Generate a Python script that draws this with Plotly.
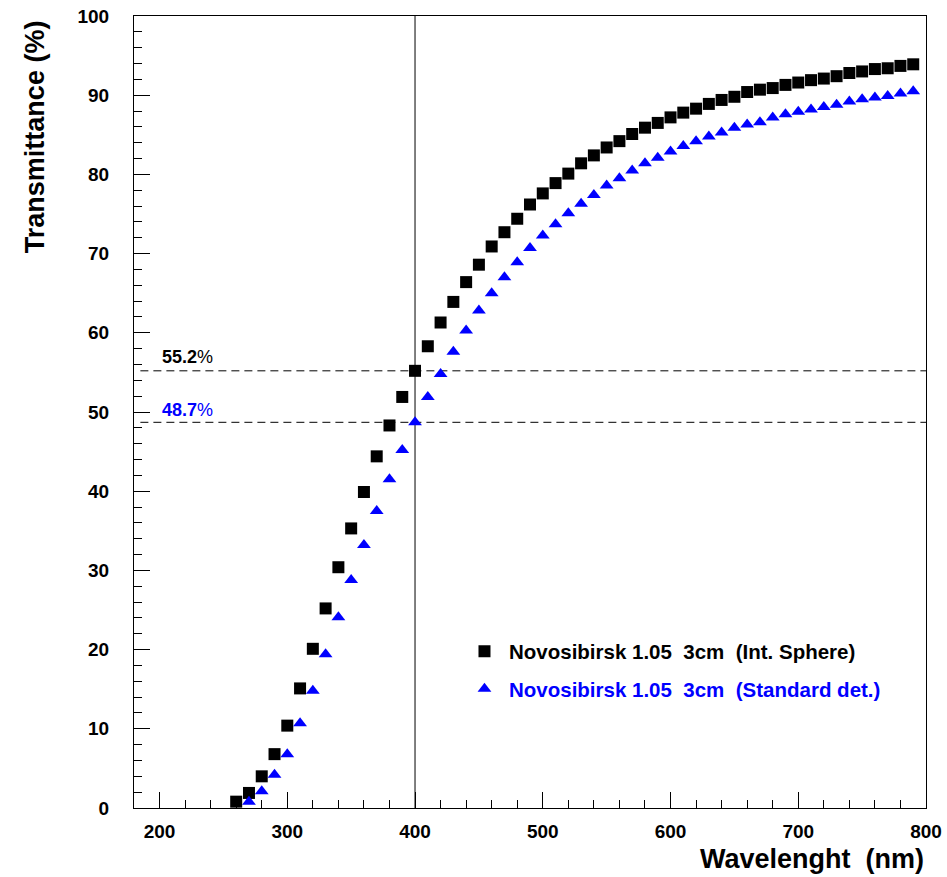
import plotly.graph_objects as go

wl_sphere = [260, 270, 280, 290, 300, 310, 320, 330, 340, 350, 360, 370, 380, 390, 400,
             410, 420, 430, 440, 450, 460, 470, 480, 490, 500, 510, 520, 530, 540, 550,
             560, 570, 580, 590, 600, 610, 620, 630, 640, 650, 660, 670, 680, 690, 700,
             710, 720, 730, 740, 750, 760, 770, 780, 790]
t_sphere = [0.8, 1.9, 4.0, 6.8, 10.4, 15.1, 20.1, 25.2, 30.4, 35.3, 39.9, 44.4, 48.3, 51.9, 55.2,
            58.3, 61.3, 63.9, 66.4, 68.6, 70.9, 72.7, 74.4, 76.2, 77.6, 78.9, 80.1, 81.4, 82.4, 83.4,
            84.2, 85.1, 85.9, 86.5, 87.2, 87.8, 88.3, 88.9, 89.4, 89.8, 90.4, 90.7, 90.9, 91.3, 91.6,
            91.9, 92.1, 92.4, 92.8, 93.0, 93.3, 93.4, 93.7, 93.9]

wl_std = [270, 280, 290, 300, 310, 320, 330, 340, 350, 360, 370, 380, 390, 400,
          410, 420, 430, 440, 450, 460, 470, 480, 490, 500, 510, 520, 530, 540, 550,
          560, 570, 580, 590, 600, 610, 620, 630, 640, 650, 660, 670, 680, 690, 700,
          710, 720, 730, 740, 750, 760, 770, 780, 790]
t_std = [0.8, 2.1, 4.2, 6.8, 10.7, 14.8, 19.4, 24.1, 28.8, 33.2, 37.5, 41.5, 45.2, 48.7,
         51.9, 54.8, 57.6, 60.3, 62.8, 65.0, 67.0, 68.9, 70.7, 72.3, 73.7, 75.1, 76.3, 77.4, 78.6,
         79.5, 80.5, 81.4, 82.1, 82.9, 83.6, 84.2, 84.8, 85.3, 85.9, 86.3, 86.6, 87.2, 87.6, 87.9,
         88.2, 88.5, 88.8, 89.2, 89.5, 89.7, 89.9, 90.2, 90.5]

ref_wl = 400
ref_sphere = 55.2
ref_std = 48.7
x_range = [180, 800]
y_range = [0, 100]

FONT = "Liberation Sans, Arial, sans-serif"
BLUE = "#0000ff"
NB = "\u00a0"

fig = go.Figure()

# reference lines
fig.add_trace(go.Scatter(x=[185, x_range[1]], y=[ref_sphere, ref_sphere], mode="lines",
                         line=dict(color="black", width=1, dash="8px,5px"),
                         showlegend=False, hoverinfo="skip"))
fig.add_trace(go.Scatter(x=[185, x_range[1]], y=[ref_std, ref_std], mode="lines",
                         line=dict(color="black", width=1, dash="8px,5px"),
                         showlegend=False, hoverinfo="skip"))
fig.add_trace(go.Scatter(x=[ref_wl, ref_wl], y=y_range, mode="lines",
                         line=dict(color="black", width=1),
                         showlegend=False, hoverinfo="skip"))

fig.add_trace(go.Scatter(
    x=wl_sphere, y=t_sphere, mode="markers",
    name=f"Novosibirsk 1.05{NB}{NB}3cm{NB}{NB}(Int. Sphere)",
    legendgroup="a",
    marker=dict(symbol="square", size=12, color="black"),
))
fig.add_trace(go.Scatter(
    x=wl_std, y=t_std, mode="markers",
    name=f"<span style='color:{BLUE}'>Novosibirsk 1.05{NB}{NB}3cm{NB}{NB}(Standard det.)</span>",
    legendgroup="b",
    marker=dict(symbol="triangle-up", size=12, color=BLUE),
))

fig.add_annotation(x=200, y=57.0, xref="x", yref="y", xanchor="left", yanchor="middle",
                   text="55.2<span style='font-weight:normal'>%</span>", showarrow=False,
                   font=dict(family=FONT, size=18, color="black", weight="bold"))
fig.add_annotation(x=200, y=50.2, xref="x", yref="y", xanchor="left", yanchor="middle",
                   text="48.7<span style='font-weight:normal'>%</span>", showarrow=False,
                   font=dict(family=FONT, size=18, color=BLUE, weight="bold"))

fig.add_annotation(x=-0.125, y=0.847, xref="paper", yref="paper", textangle=-90,
                   xanchor="center", yanchor="middle", showarrow=False,
                   text="Transmittance (%)",
                   font=dict(family=FONT, size=27, color="black", weight="bold"))
fig.add_annotation(x=1.0, y=-0.064, xref="paper", yref="paper",
                   xanchor="right", yanchor="middle", showarrow=False,
                   text=f"Wavelenght{NB}{NB}(nm)",
                   font=dict(family=FONT, size=27, color="black", weight="bold"))

axis_common = dict(showline=True, linecolor="black", linewidth=1, mirror=True,
                   showgrid=False, zeroline=False, ticks="inside", tickcolor="black",
                   automargin=False, ticklabeloverflow="allow",
                   tickfont=dict(family=FONT, size=19, color="black", weight="bold"))

fig.update_xaxes(range=x_range, tick0=200, dtick=100, ticklen=16,
                 minor=dict(ticks="inside", dtick=20, tick0=200, ticklen=8, tickcolor="black"),
                 ticklabelstandoff=6, **axis_common)
fig.update_yaxes(range=y_range, tick0=0, dtick=10, ticklen=16,
                 minor=dict(ticks="inside", dtick=2, tick0=0, ticklen=8, tickcolor="black"),
                 ticklabelstandoff=20, **axis_common)

fig.update_layout(
    width=947, height=877,
    margin=dict(l=134, r=21, t=16, b=69),
    plot_bgcolor="white", paper_bgcolor="white",
    legend=dict(x=0.4116, y=0.223, xanchor="left", yanchor="top",
                traceorder="grouped", tracegroupgap=8, itemwidth=39,
                bgcolor="rgba(0,0,0,0)",
                font=dict(family=FONT, size=20.5, color="black", weight="bold")),
)

# remove the default page margin so the 947x877 figure fills the window exactly
fig.write_html("out.html", config={"displayModeBar": False},
               post_script="document.body.style.margin='0';")
